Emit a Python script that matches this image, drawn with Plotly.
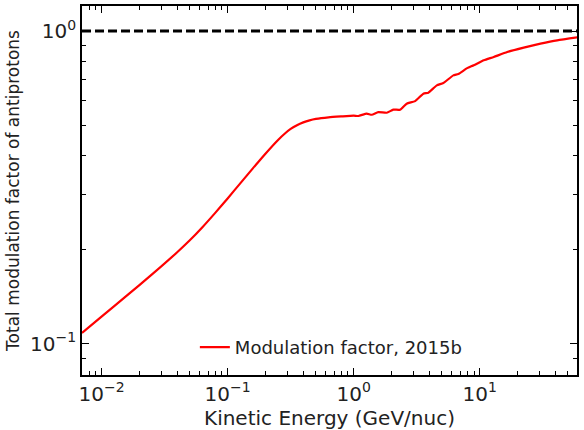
import plotly.graph_objects as go

# Data
energy = [0.0070, 0.0100, 0.01585, 0.02512, 0.03981, 0.05012, 0.0631, 0.07943, 0.100,
          0.1259, 0.1585, 0.1995, 0.2512, 0.2818, 0.3162, 0.3548, 0.3981, 0.4467, 0.5012,
          0.631, 0.794, 1.000, 1.088, 1.268, 1.39, 1.567, 1.828, 2.06, 2.33, 2.63, 3.07,
          3.57, 3.91, 4.56, 5.14, 6.17, 6.76, 7.94, 8.96, 10.76, 12.9, 16.5, 22.3, 30.3,
          41.1, 60.0]
modulation = [0.1084, 0.1222, 0.1426, 0.1667, 0.1963, 0.2143, 0.2360, 0.2618, 0.2917,
              0.3258, 0.3639, 0.4055, 0.4487, 0.4688, 0.4864, 0.5000, 0.5105, 0.5182, 0.5236,
              0.5297, 0.5333, 0.5364, 0.535, 0.5445, 0.540, 0.5508, 0.548, 0.5605, 0.5605, 0.5858, 0.5971,
              0.6305, 0.6353, 0.6705, 0.682, 0.7216, 0.729, 0.761, 0.777, 0.806, 0.826, 0.857, 0.885, 0.911,
              0.934, 0.955]

ref_energy = [0.007, 60.0]
ref_level = [1.0, 1.0]

x_tick_vals = [0.01, 0.1, 1, 10]
x_tick_text = ["10<sup>−2</sup>", "10<sup>−1</sup>", "10<sup>0</sup>", "10<sup>1</sup>"]
y_tick_vals = [0.1, 1]
y_tick_text = ["10<sup>−1</sup>", "10<sup>0</sup>"]

x_minor = [m * 10 ** e for e in range(-3, 2) for m in range(2, 10)]
y_minor = [m * 10 ** e for e in range(-2, 1) for m in range(2, 10)]

FONT = "DejaVu Sans"
TXT = "#222222"

fig = go.Figure()
fig.add_trace(go.Scatter(x=ref_energy, y=ref_level, mode="lines",
                         line=dict(color="black", width=3, dash="9px,4px"),
                         showlegend=False, hoverinfo="skip"))
fig.add_trace(go.Scatter(x=energy, y=modulation, mode="lines",
                         line=dict(color="#ff0000", width=2.2, shape="spline", smoothing=0.5),
                         name="Modulation factor, 2015b"))

axis_common = dict(
    type="log", showline=True, linecolor="black", linewidth=1.6, mirror="allticks",
    ticks="inside", ticklen=7, tickwidth=1.3, tickcolor="black", showgrid=False, zeroline=False,
    tickfont=dict(family=FONT, size=20, color=TXT),
    tickmode="array", automargin=False,
)

fig.update_xaxes(**axis_common, range=[-2.155, 1.771], tickvals=x_tick_vals, ticktext=x_tick_text,
                 minor=dict(tickmode="array", tickvals=x_minor, ticks="inside", ticklen=4,
                            tickwidth=1.1, tickcolor="black", showgrid=False),
                 title=dict(text="Kinetic Energy (GeV/nuc)", font=dict(family=FONT, size=20, color=TXT),
                            standoff=4))
fig.update_yaxes(**axis_common, range=[-1.0995, 0.08], tickvals=y_tick_vals, ticktext=y_tick_text,
                 minor=dict(tickmode="array", tickvals=y_minor, ticks="inside", ticklen=4,
                            tickwidth=1.1, tickcolor="black", showgrid=False),
                 title=dict(text="Total modulation factor of antiprotons",
                            font=dict(family=FONT, size=17, color=TXT), standoff=6))

fig.update_layout(
    width=584, height=430,
    margin=dict(l=82, r=7, t=6, b=55),
    paper_bgcolor="white", plot_bgcolor="white",
    font=dict(family=FONT, color=TXT),
    legend=dict(x=0.228, y=0.075, xanchor="left", yanchor="middle",
                bgcolor="rgba(0,0,0,0)", borderwidth=0,
                font=dict(family=FONT, size=18, color=TXT)),
)

fig.write_html("out.html", config={"displayModeBar": False},
               post_script="document.body.style.margin='0';")
